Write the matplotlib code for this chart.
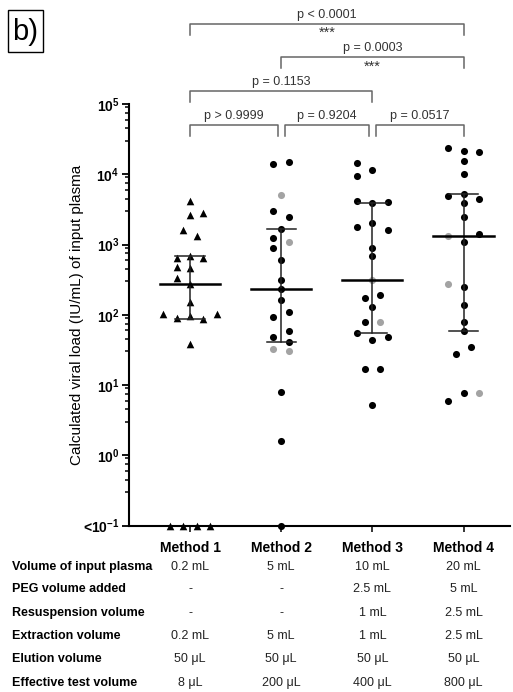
import numpy as np
import matplotlib
matplotlib.use('Agg')
import matplotlib.pyplot as plt
import matplotlib.transforms as mtransforms
from matplotlib.patches import Rectangle
from matplotlib.ticker import FixedLocator, NullFormatter

plt.rcParams['font.family'] = ['Liberation Sans', 'DejaVu Sans']
plt.rcParams['mathtext.fontset'] = 'custom'
plt.rcParams['mathtext.rm'] = 'Liberation Sans'
plt.rcParams['mathtext.bf'] = 'Liberation Sans:bold'

methods = ['Method 1', 'Method 2', 'Method 3', 'Method 4']
LOD = 0.1  # samples below detection sit on the "<10^-1" floor

# calculated viral load (IU/mL)
m1_vals = [4200, 2640, 2840, 1610, 1340, 651, 696, 638, 485, 460, 339, 272,
           154, 103, 103, 89, 97.5, 86.5, 38.6, LOD, LOD, LOD, LOD]
m2_vals = [13870, 14830, 5080, 3035, 2494, 1667, 1228, 1101, 903, 604, 314,
           231, 163, 109, 91.5, 59, 49, 41.2, 32.4, 30, 8.0, 1.57, LOD]
m3_vals = [14660, 11500, 9550, 4170, 3860, 4000, 1780, 2030, 1615, 903, 689,
           310, 176, 188, 127, 77.8, 79.4, 54.7, 43, 48, 16.8, 16.8, 5.2]
m4_vals = [23900, 21400, 20600, 15400, 10100, 4860, 5200, 4500, 3860, 2490,
           1340, 1390, 1100, 272, 247, 138, 80, 59, 34.6, 27.8, 6.0, 7.8, 7.6]

# grey = 1 for the grey dots
m1_grey = [0] * 23
m2_grey = [0, 0, 1, 0, 0, 0, 0, 1, 0, 0, 0, 0, 0, 0, 0, 0, 0, 0, 1, 1, 0, 0, 0]
m3_grey = [0, 0, 0, 0, 0, 0, 0, 0, 0, 0, 0, 1, 0, 0, 0, 0, 1, 0, 0, 0, 0, 0, 0]
m4_grey = [0, 0, 0, 0, 0, 0, 0, 0, 0, 0, 1, 0, 0, 1, 0, 0, 0, 0, 0, 0, 0, 0, 1]

# horizontal scatter slots of the dot plot
m1_slot = [0, 0, 2, -1, 1, -2, 0, 2, -2, 0, -2, 0, 0, -4, 4, -2, 0, 2, 0, -3, -1, 1, 3]
m2_slot = [-1, 1, 0, -1, 1, 0, -1, 1, -1, 0, 0, 0, 0, 1, -1, 1, -1, 1, -1, 1, 0, 0, 0]
m3_slot = [-2, 0, -2, -2, 0, 2, -2, 0, 2, 0, 0, 0, -1, 1, 0, -1, 1, -2, 0, 2, -1, 1, 0]
m4_slot = [-2, 0, 2, 0, 0, -2, 0, 2, 0, 0, -2, 2, 0, -2, 0, 0, 0, 0, 1, -1, -2, 0, 2]

p_pairs = [(1, 4), (2, 4), (1, 3), (1, 2), (2, 3), (3, 4)]
p_text = ['p < 0.0001', 'p = 0.0003', 'p = 0.1153', 'p > 0.9999', 'p = 0.9204', 'p = 0.0517']
p_stars = ['***', '***', '', '', '', '']

row_names = ['Volume of input plasma', 'PEG volume added', 'Resuspension volume',
             'Extraction volume', 'Elution volume', 'Effective test volume']
row_vals = [['0.2 mL', '5 mL', '10 mL', '20 mL'],
            ['-', '-', '2.5 mL', '5 mL'],
            ['-', '-', '1 mL', '2.5 mL'],
            ['0.2 mL', '5 mL', '1 mL', '2.5 mL'],
            ['50 \u03bcL', '50 \u03bcL', '50 \u03bcL', '50 \u03bcL'],
            ['8 \u03bcL', '200 \u03bcL', '400 \u03bcL', '800 \u03bcL']]

W, H = 513, 692
fig = plt.figure(figsize=(W / 100, H / 100), dpi=100)
ax = fig.add_axes([129 / W, 1 - 525.5 / H, (510 - 129) / W, (525.5 - 104) / H])


def fy(px):
    # pixel row from the top -> figure fraction
    return 1 - px / H


groups = [(m1_vals, m1_slot, m1_grey, '^', 0.073),
          (m2_vals, m2_slot, m2_grey, 'o', 0.085),
          (m3_vals, m3_slot, m3_grey, 'o', 0.085),
          (m4_vals, m4_slot, m4_grey, 'o', 0.085)]

for i, (vals, slot, grey, mk, step) in enumerate(groups):
    pos = i + 1
    v = np.array(vals, dtype=float)
    x = pos + np.array(slot) * step
    g = np.array(grey) == 1
    ax.scatter(x[~g], v[~g], marker=mk, s=30 if mk == '^' else 26, c='black',
               linewidths=0, zorder=3, clip_on=False)
    if g.any():
        ax.scatter(x[g], v[g], marker=mk, s=26, c='#a3a3a3', linewidths=0,
                   zorder=3, clip_on=False)
    q1, med, q3 = np.percentile(v, [25, 50, 75], method='weibull')
    ax.plot([pos, pos], [q1, q3], color='#222222', lw=1.1, zorder=4)
    ax.plot([pos - 0.16, pos + 0.16], [q1, q1], color='#222222', lw=1.1, zorder=4)
    ax.plot([pos - 0.16, pos + 0.16], [q3, q3], color='#222222', lw=1.1, zorder=4)
    ax.plot([pos - 0.33, pos + 0.33], [med, med], color='black', lw=1.8, zorder=4)

ax.set_yscale('log')
ax.set_ylim(LOD, 1e5)
ax.set_xlim(0.33, 4.51)

major = [10.0 ** k for k in range(-1, 6)]
ax.yaxis.set_major_locator(FixedLocator(major))
ax.set_yticklabels([r'<$\mathbf{10^{-1}}$'] + [r'$\mathbf{10^{%d}}$' % k for k in range(0, 6)],
                   fontweight='bold')
subs = [3, 4.5, 6, 7.5, 9]
minor = [s * 10.0 ** k for k in range(-1, 5) for s in subs]
ax.yaxis.set_minor_locator(FixedLocator(minor))
ax.yaxis.set_minor_formatter(NullFormatter())

ax.set_xticks([1, 2, 3, 4])
ax.set_xticklabels(methods, fontsize=10, fontweight='bold')

for s in ['top', 'right']:
    ax.spines[s].set_visible(False)
for s in ['left', 'bottom']:
    ax.spines[s].set_linewidth(1.5)
ax.tick_params(axis='y', which='major', length=5, width=1.3, pad=2, labelsize=10)
ax.tick_params(axis='y', which='minor', length=3, width=1.1)
ax.tick_params(axis='x', length=4, width=1.1, pad=7)

fig.text(77 / W, fy(315), 'Calculated viral load (IU/mL) of input plasma',
         rotation=90, ha='center', va='center', fontsize=11)

# significance brackets
trans = mtransforms.blended_transform_factory(ax.transData, fig.transFigure)
levels = [24, 57.3, 90.7, 125, 125, 125]
for (a, b), txt, st, lv in zip(p_pairs, p_text, p_stars, levels):
    xa, xb = a, b
    if lv == 125:
        if a != 1:
            xa = a + 0.045
        if b != 4:
            xb = b - 0.037
    ax.plot([xa, xa, xb, xb], [fy(lv + 11), fy(lv), fy(lv), fy(lv + 11)],
            color='#666666', lw=1.1, transform=trans, clip_on=False)
    ax.text((xa + xb) / 2, fy(lv - 9), txt, ha='center', va='center',
            fontsize=9, color='#333333', transform=trans)
    if st:
        ax.text((xa + xb) / 2, fy(lv + 9), st, ha='center', va='center',
                fontsize=10.5, color='#333333', transform=trans)

# panel letter
fig.patches.append(Rectangle((8 / W, fy(51.7)), 34.7 / W, 41.7 / H, fill=False,
                             edgecolor='black', lw=1.0, transform=fig.transFigure))
fig.text(25.5 / W, fy(32), 'b)', ha='center', va='center', fontsize=21)

# method table
row_y = [566.7, 589.3, 612.7, 636, 659.3, 683.3]
for name, vals, ry in zip(row_names, row_vals, row_y):
    fig.text(12 / W, fy(ry), name, ha='left', va='center', fontsize=9,
             fontweight='bold')
    for j, t in enumerate(vals):
        ax.text(j + 1, fy(ry), t, ha='center', va='center', fontsize=9,
                color='#222222', transform=trans)

fig.savefig('out.png', dpi=100)
